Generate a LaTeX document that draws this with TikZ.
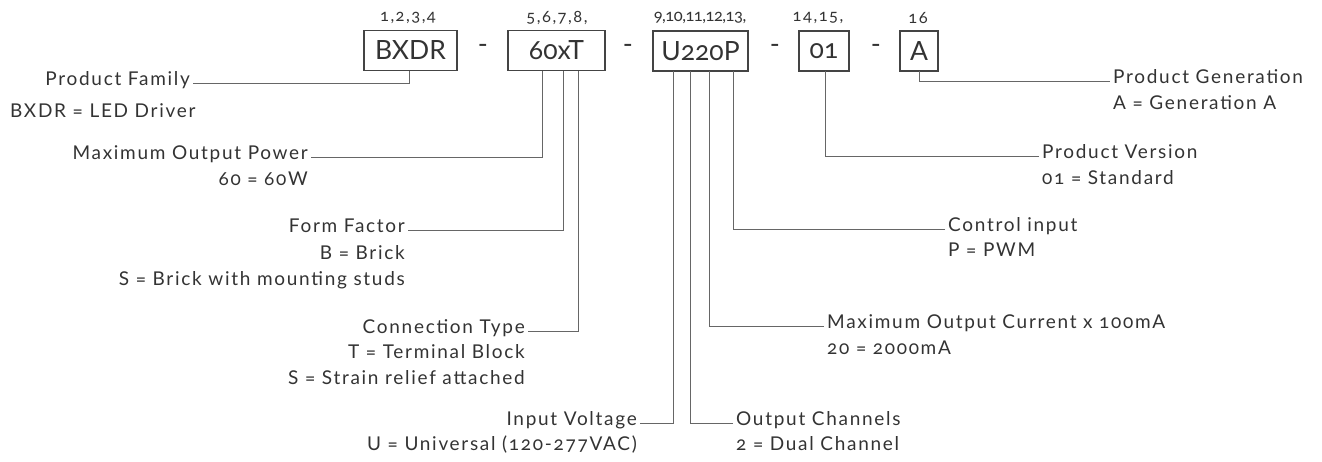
\documentclass[tikz,border=0pt]{standalone}
\usepackage{fontspec}
\setmainfont{Lato}[Numbers=OldStyle,LetterSpace=9]
\newfontfamily\codefont{Lato}[Numbers=OldStyle]
\definecolor{txt}{HTML}{333333}
\definecolor{ln}{HTML}{666666}
\definecolor{bx}{HTML}{444444}
\begin{document}
\begin{tikzpicture}[x=1pt,y=-1pt,
  code/.style={draw=bx,line width=1.1pt,inner sep=0pt,minimum height=40pt,text=txt,font=\codefont\fontsize{26.5}{26.5}\selectfont},
  posnum/.style={text=txt,inner sep=0pt,font=\fontsize{16.5}{16.5}\selectfont},
  sepdash/.style={text=txt,inner sep=0pt,font=\codefont\fontsize{27}{27}\selectfont},
  lbl/.style={text=txt,inner sep=0pt,font=\fontsize{19}{19}\selectfont},
  conn/.style={draw=ln,line width=0.9pt}]
\useasboundingbox (0,0) rectangle (1322,461);
% code boxes
\node[code,minimum width=93pt] (bxdr) at (410.5,50.5) {BXDR};
\node[code,minimum width=97pt] (pow) at (556.5,50.5) {60xT};
\node[code,minimum width=95pt] (volt) at (700.5,51) {U220P};
\node[code,minimum width=50pt] (ver) at (824,51) {01};
\node[code,minimum width=38pt] (gen) at (919,51) {A};
% separators
\node[sepdash] (d1) at (483,49) {-};
\node[sepdash] (d2) at (628,49) {-};
\node[sepdash] (d3) at (775,49) {-};
\node[sepdash] (d4) at (876,49) {-};
% position numbers
\node[posnum] (p1) at (408,18) {1,2,3,4};
\node[posnum] (p2) at (557,18) {5,6,7,8,};
\node[posnum] (p3) at (700,18) {\addfontfeatures{LetterSpace=-3}9,10,11,12,13,};
\node[posnum] (p4) at (818,18) {14,15,};
\node[posnum] (p5) at (918,18) {16};
% tap points
\coordinate (t1) at (409,70.5);
\coordinate (t2) at (542,70.5);
\coordinate (t3) at (563,70.5);
\coordinate (t4) at (578,70.5);
\coordinate (t5) at (673,71);
\coordinate (t6) at (690,71);
\coordinate (t7) at (709,71);
\coordinate (t8) at (733,71);
\coordinate (t9) at (825,71);
\coordinate (t10) at (919,71);
% left labels
\node[lbl,anchor=mid east] (pf) at (190,83) {Product Family};
\node[lbl,anchor=mid west] (pfv) at (10,115) {BXDR = LED Driver};
\node[lbl,anchor=mid east] (mop) at (308,157) {Maximum Output Power};
\node[lbl,anchor=mid east] (mopv) at (308,183) {60 = 60W};
\node[lbl,anchor=mid east] (ff) at (405,230) {Form Factor};
\node[lbl,anchor=mid east] (ffv1) at (405,257) {B = Brick};
\node[lbl,anchor=mid east] (ffv2) at (405,283) {S = Brick with mounting studs};
\node[lbl,anchor=mid east] (ct) at (525,331) {Connection Type};
\node[lbl,anchor=mid east] (ctv1) at (525,356) {T = Terminal Block};
\node[lbl,anchor=mid east] (ctv2) at (525,382) {S = Strain relief attached};
\node[lbl,anchor=mid east] (iv) at (637,423) {Input Voltage};
\node[lbl,anchor=mid east] (ivv) at (637,448) {U = Universal (120-277VAC)};
% right labels
\node[lbl,anchor=mid west] (oc) at (736,423) {Output Channels};
\node[lbl,anchor=mid west] (ocv) at (736,448) {2 = Dual Channel};
\node[lbl,anchor=mid west] (moc) at (827,326) {Maximum Output Current x 100mA};
\node[lbl,anchor=mid west] (mocv) at (827,352) {20 = 2000mA};
\node[lbl,anchor=mid west] (ci) at (948,229) {Control input};
\node[lbl,anchor=mid west] (civ) at (948,254) {P = PWM};
\node[lbl,anchor=mid west] (pv) at (1042,156) {Product Version};
\node[lbl,anchor=mid west] (pvv) at (1042,182) {01 = Standard};
\node[lbl,anchor=mid west] (pg) at (1113,81) {Product Generation};
\node[lbl,anchor=mid west] (pgv) at (1113,107) {A = Generation A};
% connectors
\draw[conn] ([xshift=3pt]pf.mid east) -| (t1);
\draw[conn] ([xshift=3pt]mop.mid east) -| (t2);
\draw[conn] ([xshift=3pt]ff.mid east) -| (t3);
\draw[conn] ([xshift=3pt]ct.mid east) -| (t4);
\draw[conn] ([xshift=3pt]iv.mid east) -| (t5);
\draw[conn] ([xshift=-3pt]oc.mid west) -| (t6);
\draw[conn] ([xshift=-3pt]moc.mid west) -| (t7);
\draw[conn] ([xshift=-3pt]ci.mid west) -| (t8);
\draw[conn] ([xshift=-3pt]pv.mid west) -| (t9);
\draw[conn] ([xshift=-3pt]pg.mid west) -| (t10);
\end{tikzpicture}
\end{document}
